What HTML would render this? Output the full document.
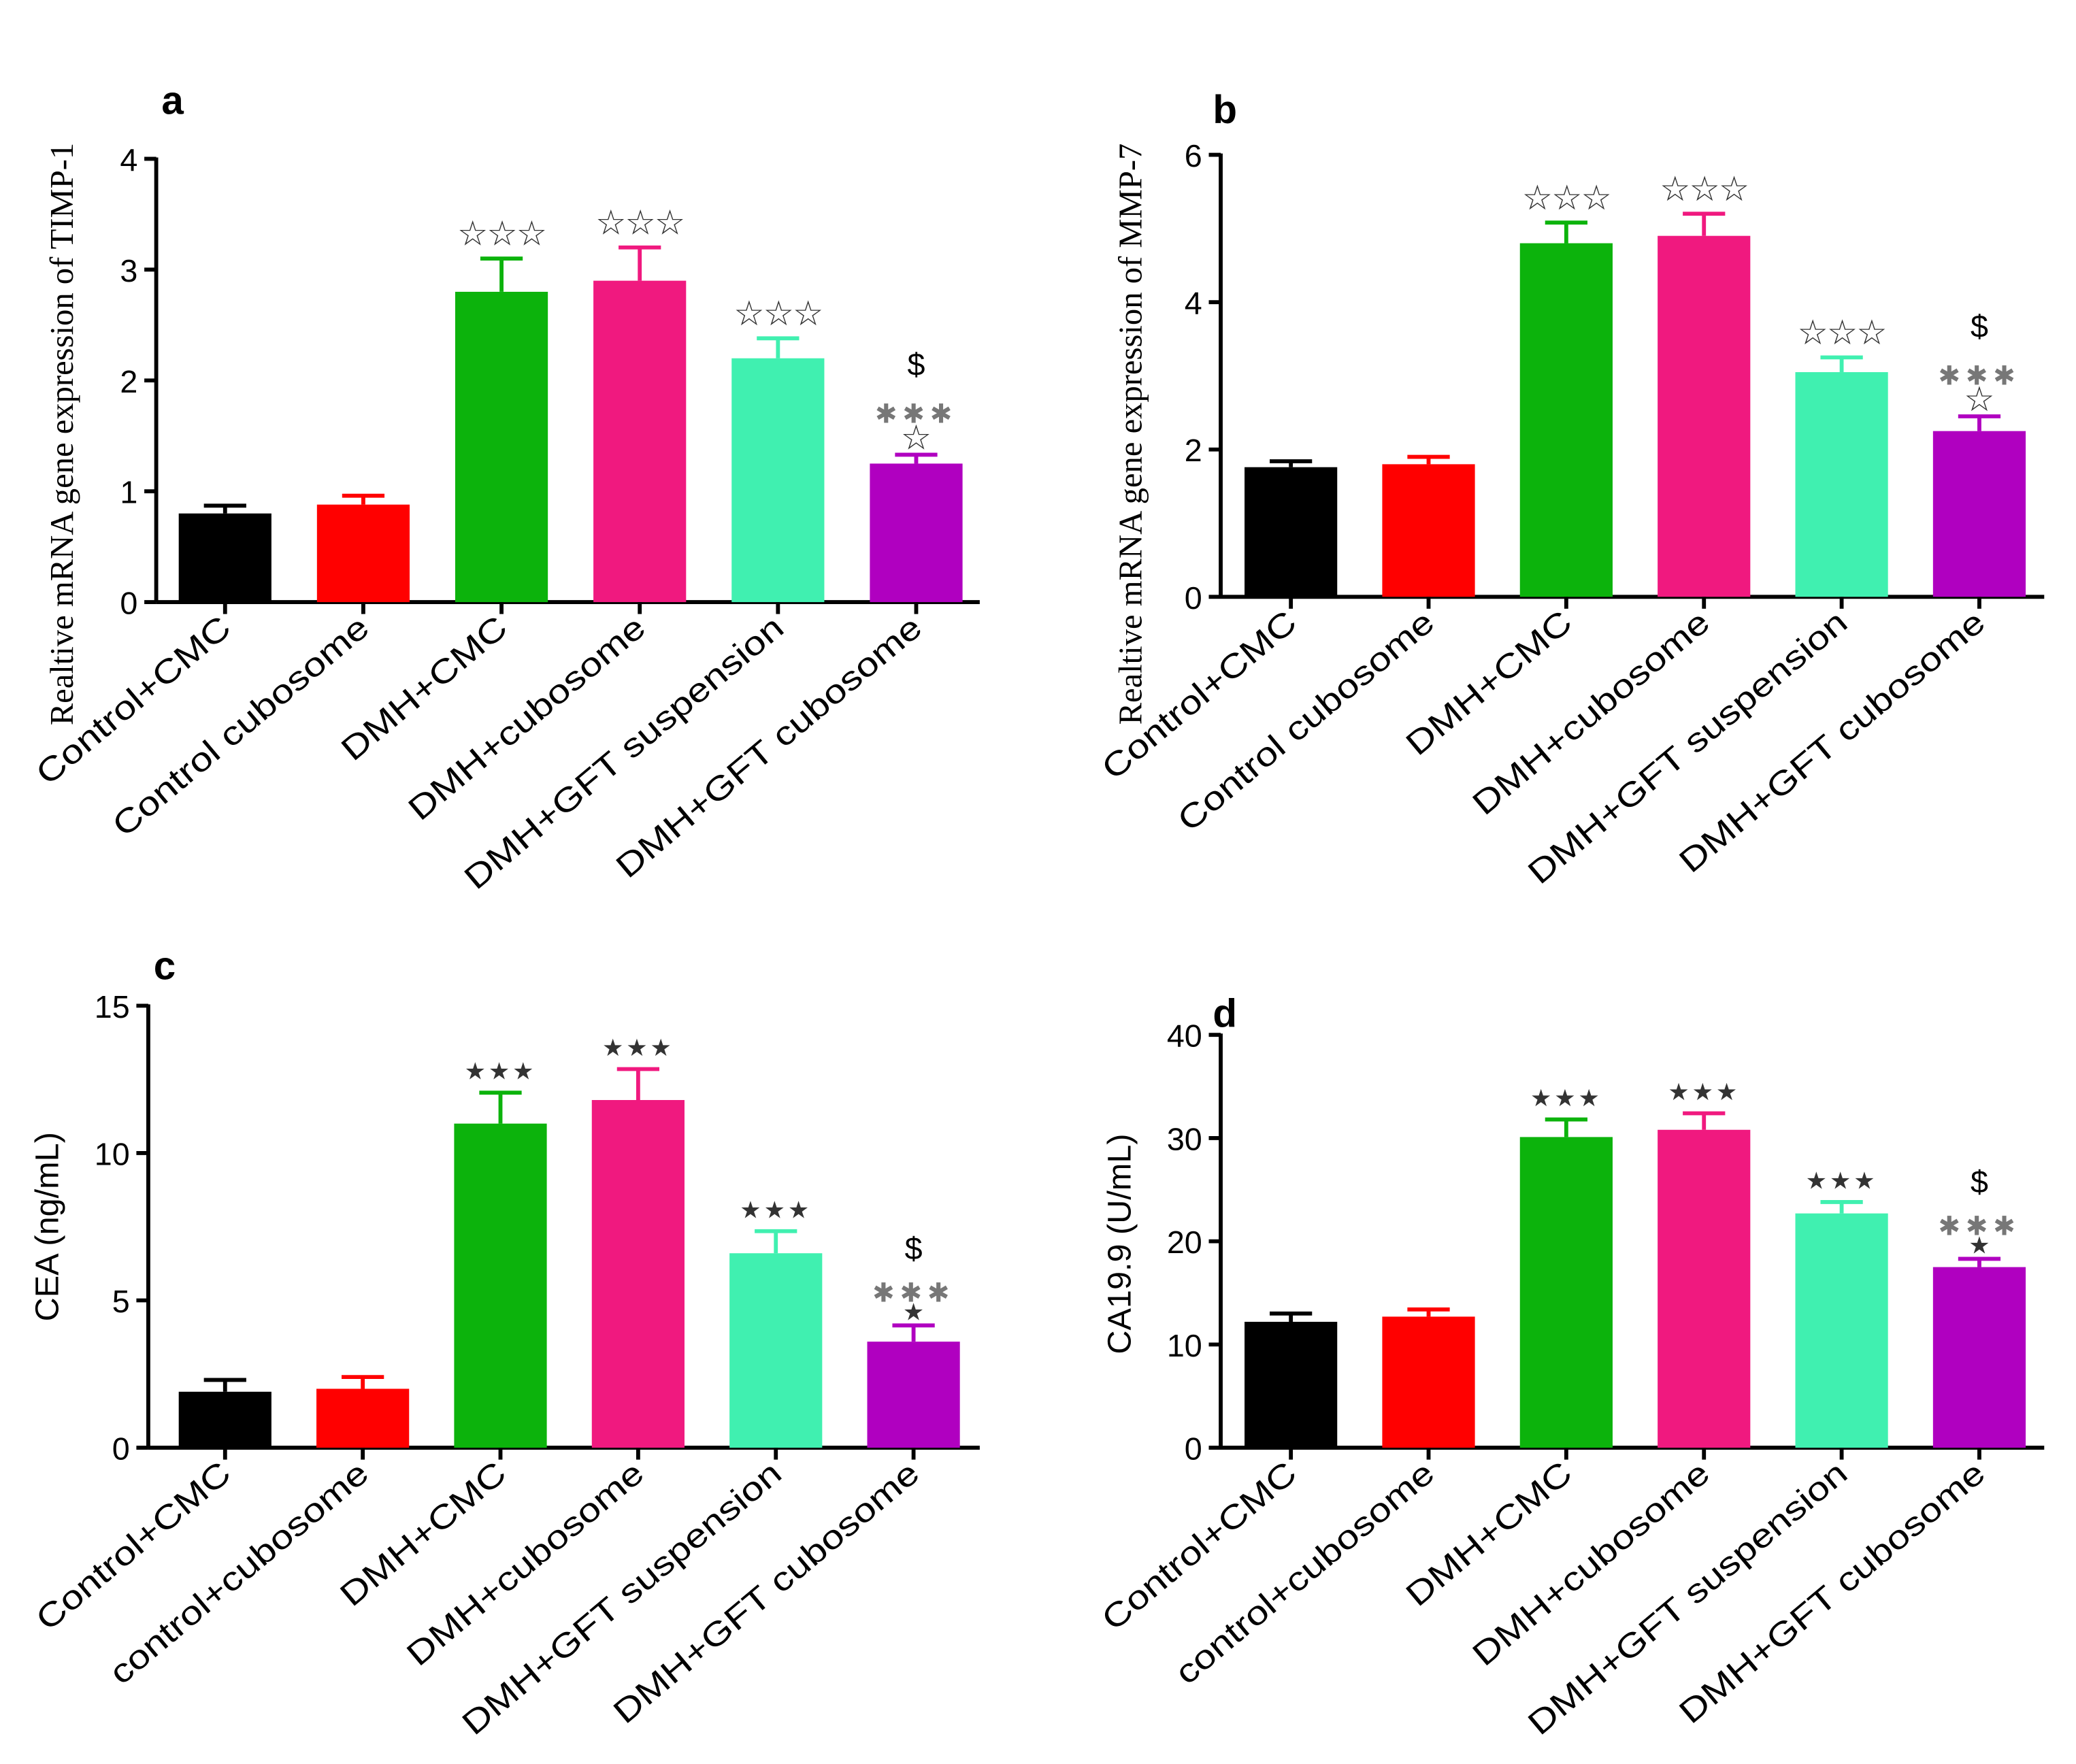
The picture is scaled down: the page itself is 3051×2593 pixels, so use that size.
<!DOCTYPE html>
<html><head><meta charset="utf-8"><style>
html,body{margin:0;padding:0;background:#fff;}
svg{display:block;}
</style></head><body>
<svg id="fig" width="3051" height="2593" viewBox="0 0 1568 1333" preserveAspectRatio="none" xmlns="http://www.w3.org/2000/svg"></svg>
<script>
const catsA = ["Control+CMC","Control cubosome","DMH+CMC","DMH+cubosome","DMH+GFT suspension","DMH+GFT cubosome"];
const catsC = ["Control+CMC","control+cubosome","DMH+CMC","DMH+cubosome","DMH+GFT suspension","DMH+GFT cubosome"];
const colors = ["#000000","#ff0000","#0cb30c","#f0197f","#40f0b0","#b000c0"];
const valsA = [0.8,0.88,2.8,2.9,2.2,1.25];
const errA = [0.07,0.08,0.3,0.3,0.18,0.08];
const valsB = [1.76,1.8,4.8,4.9,3.05,2.25];
const errB = [0.08,0.1,0.28,0.3,0.2,0.2];
const valsC = [1.9,2.0,11.0,11.8,6.6,3.6];
const errC = [0.4,0.4,1.05,1.05,0.75,0.55];
const valsD = [12.2,12.7,30.1,30.8,22.7,17.5];
const errD = [0.8,0.7,1.7,1.6,1.1,0.8];
const ticksA = [0,1,2,3,4];
const ticksB = [0,2,4,6];
const ticksC = [0,5,10,15];
const ticksD = [0,10,20,30,40];

const NS="http://www.w3.org/2000/svg";
const svg=document.getElementById('fig');
function mk(tag,attrs,parent){const e=document.createElementNS(NS,tag);for(const k in attrs)e.setAttribute(k,attrs[k]);(parent||svg).appendChild(e);return e;}

function panel(p){
  const g=mk('g',{});
  
  
  const ymax=p.ticks[p.ticks.length-1];
  const y=v=>p.y0-(v/ymax)*(p.y0-p.yTop);
  const x=i=>p.x0+p.first+i*p.step;
  const ya=mk('line',{x1:p.ax,y1:y(ymax)-1,x2:p.ax,y2:p.y0,stroke:'#000','stroke-width':3},g);
  
  
  const xa=mk('line',{x1:p.ax,y1:p.y0,x2:p.ax+p.xlen,y2:p.y0,stroke:'#000','stroke-width':3},g);
  
  
  p.ticks.forEach(t=>{
    mk('line',{x1:p.ax-9,y1:y(t),x2:p.ax,y2:y(t),stroke:'#000','stroke-width':3},g);
    const tl=mk('text',{x:p.ax-14,y:y(t)+9,'text-anchor':'end','font-family':'Liberation Sans, sans-serif','font-size':24},g);
    tl.textContent=t;
    
    
  });
  p.vals.forEach((v,i)=>{
    const cx=x(i);
    const top=y(v+p.err[i]);
    mk('line',{x1:cx,y1:y(v),x2:cx,y2:top,stroke:colors[i],'stroke-width':3},g);
    mk('line',{x1:cx-16,y1:top,x2:cx+16,y2:top,stroke:colors[i],'stroke-width':3},g);
    const b=mk('rect',{x:cx-35,y:y(v),width:70,height:p.y0-y(v),fill:colors[i]},g);
    
    
    mk('line',{x1:cx,y1:p.y0,x2:cx,y2:p.y0+9,stroke:'#000','stroke-width':3},g);
    const lt=mk('text',{transform:'translate('+(cx+6)+','+(p.y0+22)+') rotate(-40) scale(1.2,1)','text-anchor':'end','font-family':'Liberation Sans, sans-serif','font-size':25},g);
    lt.textContent=p.cats[i];
    
    
    if(i>=2){
      const sym=p.filled?'★★★':'☆☆☆';
      if(i<5){
        const a=mk('text',{x:cx,y:top-10,'text-anchor':'middle','font-family':'DejaVu Sans, sans-serif','font-size':p.filled?18:26,fill:'#333','letter-spacing':p.filled?2:-1},g);
        a.textContent=sym;
        
        
      } else {
        const s1=mk('text',{x:cx,y:top-4,'text-anchor':'middle','font-family':'DejaVu Sans, sans-serif','font-size':p.filled?18:26,fill:'#333'},g);
        s1.textContent=p.filled?'★':'☆';
        
        
        const s2=mk('text',{x:cx,y:top+(p.filled?-18:-24),'text-anchor':'middle','font-family':'DejaVu Sans, sans-serif','font-size':20,fill:'#777','letter-spacing':4,'font-weight':'bold'},g);
        s2.textContent='✱✱✱';
        
        
        const s3=mk('text',{x:cx,y:top+(p.filled?-50:-60),'text-anchor':'middle','font-family':'Liberation Sans, sans-serif','font-size':24},g);
        s3.textContent='$';
        
        
      }
    }
  });
  const yt=mk('text',{transform:'translate('+p.tx+','+p.ty+') rotate(-90)','text-anchor':'middle','font-family':p.serif?'Liberation Serif, serif':'Liberation Sans, sans-serif','font-size':p.serif?25:25},g);
  yt.textContent=p.title;
  
  
  const pl=mk('text',{x:p.lx,y:p.ly,'font-family':'Liberation Sans, sans-serif','font-size':30,'font-weight':'bold'},g);
  pl.textContent=p.id;
  
  
}
panel({id:'a',cats:catsA,vals:valsA,err:errA,ticks:ticksA,ax:118,x0:118,first:52,step:104.4,xlen:622,y0:455,yTop:120,filled:false,title:'Realtive mRNA gene expression of TIMP-1',serif:true,tx:55,ty:328,lx:122,ly:86});
panel({id:'b',cats:catsA,vals:valsB,err:errB,ticks:ticksB,ax:922,x0:922,first:53,step:104,xlen:622,y0:451,yTop:117,filled:false,title:'Realtive mRNA gene expression of MMP-7',serif:true,tx:862,ty:328,lx:916,ly:93});
panel({id:'c',cats:catsC,vals:valsC,err:errC,ticks:ticksC,ax:112,x0:112,first:58,step:104,xlen:628,y0:1094,yTop:760,filled:true,title:'CEA (ng/mL)',serif:false,tx:44,ty:927,lx:116,ly:740});
panel({id:'d',cats:catsC,vals:valsD,err:errD,ticks:ticksD,ax:922,x0:922,first:53,step:104,xlen:622,y0:1094,yTop:782,filled:true,title:'CA19.9 (U/mL)',serif:false,tx:854,ty:940,lx:916,ly:776});
</script>
</body></html>
